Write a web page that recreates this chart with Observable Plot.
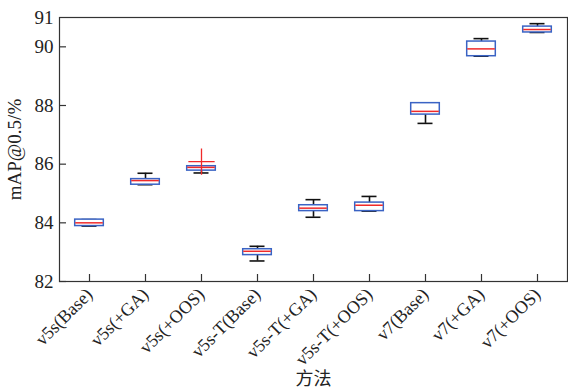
<!DOCTYPE html>
<html><head><meta charset="utf-8">
<script src="https://cdn.jsdelivr.net/npm/d3@7"></script>
<script src="https://cdn.jsdelivr.net/npm/@observablehq/plot@0.6"></script>
<style>
body{margin:0;background:#fff;}
svg, svg text{font-family:"Liberation Serif","Times New Roman","Noto Sans CJK SC",serif !important;}
</style></head>
<body><div id="chart"></div>
<script>
const labels = ["v5s(Base)","v5s(+GA)","v5s(+OOS)","v5s-T(Base)","v5s-T(+GA)","v5s-T(+OOS)","v7(Base)","v7(+GA)","v7(+OOS)"];
const minV = [83.89, 85.30, 85.70, 82.70, 84.19, 84.40, 87.39, 89.68, 90.49];
const q1V  = [83.89, 85.30, 85.78, 82.90, 84.40, 84.40, 87.69, 89.68, 90.49];
const medV = [84.00, 85.44, 85.89, 83.03, 84.50, 84.60, 87.80, 89.93, 90.59];
const q3V  = [84.11, 85.49, 85.93, 83.10, 84.60, 84.69, 88.08, 90.18, 90.69];
const maxV = [84.11, 85.69, 85.93, 83.20, 84.79, 84.90, 88.08, 90.28, 90.79];
const outlierCat = ["v5s(+OOS)"];
const outlierVal = [86.09];
const yTicks = [82, 84, 86, 88, 90, 91];

const stats = labels.map((c, i) => ({c, lo: minV[i], q1: q1V[i], med: medV[i], q3: q3V[i], hi: maxV[i]}));
const outliers = outlierCat.map((c, i) => ({c, v: outlierVal[i]}));

const boxInset = 13.7, capInset = 20.5;
const chart = Plot.plot({
  width: 568, height: 391,
  marginLeft: 59, marginRight: 1, marginTop: 17, marginBottom: 110,
  style: {fontSize: "18px", color: "#222"},
  x: {type: "band", domain: labels, padding: 0, label: "方法"},
  y: {domain: [82, 91], label: "mAP@0.5/%"},
  marks: [
    Plot.frame({stroke: "#333", strokeWidth: 1.2}),
    Plot.axisY({ticks: yTicks, tickSize: 0, tickPadding: 6, labelAnchor: "center", labelArrow: "none", labelOffset: 52, fontSize: 19}),
    Plot.axisY({ticks: [82, 84, 86, 88, 90], tickSize: -7, text: null, label: null, stroke: "#333", strokeWidth: 1.2}),
    Plot.axisX({tickSize: 0, tickPadding: 10, tickRotate: -45, labelAnchor: "center", labelArrow: "none", labelOffset: 103, fontSize: 18}),
    Plot.axisX({tickSize: -7, text: null, label: null, stroke: "#333", strokeWidth: 1.2}),
    Plot.ruleX(stats, {x: "c", y1: "lo", y2: "hi", stroke: "#111", strokeWidth: 1.6}),
    Plot.tickY(stats, {x: "c", y: "lo", stroke: "#111", strokeWidth: 1.6, insetLeft: capInset, insetRight: capInset}),
    Plot.tickY(stats, {x: "c", y: "hi", stroke: "#111", strokeWidth: 1.6, insetLeft: capInset, insetRight: capInset}),
    Plot.barY(stats, {x: "c", y1: "q1", y2: "q3", fill: "white", stroke: "#3a63c4", strokeWidth: 1.5, insetLeft: boxInset, insetRight: boxInset}),
    Plot.tickY(stats, {x: "c", y: "med", stroke: "#f02a2a", strokeWidth: 1.5, insetLeft: boxInset + 0.5, insetRight: boxInset + 0.5}),
    Plot.dot(outliers, {x: "c", y: "v", symbol: "plus", r: 8.5, stroke: "#f02a2a", strokeWidth: 1.3})
  ]
});
document.getElementById("chart").appendChild(chart);
</script>
</body></html>
